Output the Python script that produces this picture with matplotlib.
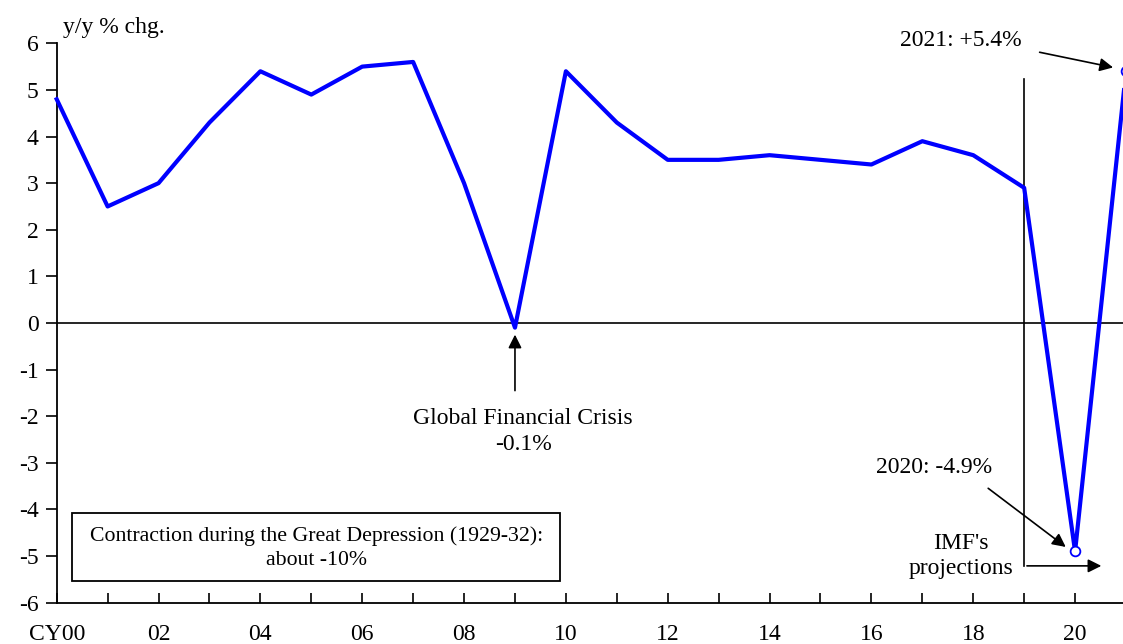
import matplotlib
matplotlib.use("Agg")
import matplotlib.pyplot as plt

plt.rcParams['font.family'] = ['Liberation Serif', 'DejaVu Serif']

years = list(range(2000, 2022))
growth = [4.8, 2.5, 3.0, 4.3, 5.4, 4.9, 5.5, 5.6, 3.0, -0.1, 5.4,
          4.3, 3.5, 3.5, 3.6, 3.5, 3.4, 3.9, 3.6, 2.9, -4.9, 5.4]
proj_years = [2020, 2021]
proj_values = [-4.9, 5.4]
yticks = list(range(-6, 7))
xtick_labels = ['CY00' if y == 2000 else (f"{y % 100:02d}" if y % 2 == 0 else '') for y in years]

W, H = 1123, 644
fig = plt.figure(figsize=(W / 100, H / 100), dpi=100)
x0, x1 = 56.7, 1126.0
y0, y1 = 602.7, 43.3
ax = fig.add_axes([x0 / W, (H - y0) / H, (x1 - x0) / W, (y0 - y1) / H])
ax.set_xlim(2000, 2021)
ax.set_ylim(-6, 6)

ax.axhline(0, color='black', lw=1.2, zorder=1)
ax.plot(years, growth, color='#0000FF', lw=3, zorder=3, clip_on=False)
ax.plot(proj_years, proj_values, ls='none', marker='o', ms=7, mfc='white',
        mec='#0000FF', mew=1.3, zorder=4, clip_on=False)

ax.spines['top'].set_visible(False)
ax.spines['right'].set_visible(False)
for s in ('left', 'bottom'):
    ax.spines[s].set_linewidth(1.3)
ax.set_yticks(yticks)
ax.set_yticklabels([str(v) for v in yticks])
ax.set_xticks(years)
ax.set_xticklabels(xtick_labels)
ax.tick_params(axis='y', direction='out', length=8, width=1.2, labelsize=17, pad=5)
ax.tick_params(axis='x', direction='in', length=7, width=1.2, labelsize=17, pad=15)

fig.text(63 / W, 1 - 27 / H, 'y/y % chg.', fontsize=17, ha='left', va='center')

arrow = dict(arrowstyle='-|>', color='black', lw=1.2, mutation_scale=20)

# Projection bracket
ax.plot([2019, 2019], [5.23, -5.21], color='black', lw=1.2, zorder=2)
ax.annotate('', xy=(2020.57, -5.21), xytext=(2019, -5.21), arrowprops=arrow)
ax.text(2017.75, -5.0, "IMF's\nprojections", ha='center', va='center',
        fontsize=17, linespacing=1.3)

# 2020 annotation
ax.text(2017.23, -3.11, '2020: -4.9%', ha='center', va='center', fontsize=17)
ax.annotate('', xy=(2019.86, -4.84), xytext=(2018.25, -3.51), arrowprops=arrow)

# 2021 annotation
ax.text(2017.75, 6.07, '2021: +5.4%', ha='center', va='center', fontsize=17, clip_on=False)
ax.annotate('', xy=(2020.8, 5.47), xytext=(2019.25, 5.82),
            arrowprops=arrow, annotation_clip=False)

# GFC annotation
ax.annotate('', xy=(2009.0, -0.19), xytext=(2009.0, -1.51), arrowprops=arrow)
ax.text(2009.16, -2.33, 'Global Financial Crisis\n-0.1%', ha='center', va='center',
        fontsize=17, linespacing=1.35)

# Great Depression box
bx0, bx1 = 2000.31, 2009.88
by0 = (323 - 581) / 46.6
by1 = (323 - 512.7) / 46.6
ax.add_patch(plt.Rectangle((bx0, by0), bx1 - bx0, by1 - by0, fill=False,
                           ec='black', lw=1.3, zorder=2))
ax.text((bx0 + bx1) / 2, (by0 + by1) / 2 - 0.03,
        'Contraction during the Great Depression (1929-32):\nabout -10%',
        ha='center', va='center', fontsize=15.7, linespacing=1.4)

fig.savefig('out.png', dpi=100)
